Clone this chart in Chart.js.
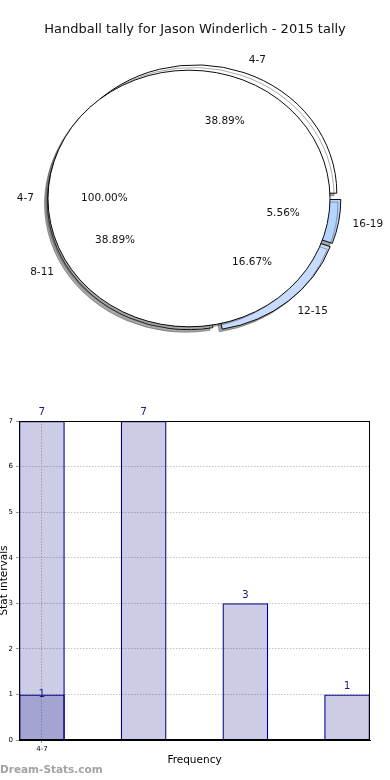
<!DOCTYPE html>
<html>
<head>
<meta charset="utf-8">
<script src="https://cdn.jsdelivr.net/npm/chart.js@4.4.1/dist/chart.umd.min.js"></script>
<style>
  html, body { margin: 0; padding: 0; background: #fff; }
  #wrap { position: relative; width: 390px; height: 780px; overflow: hidden; }
  canvas { position: absolute; left: 0; }
  #pieOuter, #pieInner { top: 0; }
  #bars { top: 390px; }
  #mark { position: absolute; left: 0; top: 763px; font: bold 10.5px 'DejaVu Sans', sans-serif; color: #a3a3a3; }
</style>
</head>
<body>
<div id="wrap">
  <canvas id="pieOuter" width="390" height="390"></canvas>
  <canvas id="pieInner" width="390" height="390"></canvas>
  <canvas id="bars" width="390" height="390"></canvas>
  <div id="mark">Dream-Stats.com</div>
</div>
<script>
// ── data ──────────────────────────────────────────────────────────────
const titleText = 'Handball tally for Jason Winderlich - 2015 tally';
const categories = ['4-7', '8-11', '12-15', '16-19'];
const tallies = [7, 7, 3, 1];
const sliceColors = ['#ffffff', '#ffffff', '#c6dbfd', '#b5d3ff'];
const wholeLabels = ['4-7'];      // the full 100% disc drawn over the slices
const wholeValues = [1];
const highlightValues = [1];      // darker overlay on the first bar
const xTickLabels = ['4-7'];

// ── pie geometry / look ───────────────────────────────────────────────
const PIE_R = 141;
const SQUASH = 0.91;          // the pie is drawn as an ellipse
const EXPLODE = 6.2;          // px each slice is pushed out
const SHADOW = 'rgba(77,77,77,0.5)';

Chart.defaults.font.family = "'DejaVu Sans', sans-serif";

function centerY(chart) {
    return (chart.chartArea.top + chart.chartArea.bottom) / 2;
}
function squashY(chart, y) {
    const cy = centerY(chart);
    return cy + (y - cy) * SQUASH;
}

// squash to an ellipse and add the gray drop shadow
const ellipsePlugin = {
    id: 'ellipse',
    beforeDatasetsDraw(chart) {
        const ctx = chart.ctx;
        const cy = centerY(chart);
        ctx.save();
        ctx.translate(0, cy);
        ctx.scale(1, SQUASH);
        ctx.translate(0, -cy);
        ctx.shadowColor = SHADOW;
        ctx.shadowOffsetX = -2.8;
        ctx.shadowOffsetY = 2.6;
        ctx.shadowBlur = 0;
    },
    afterDatasetsDraw(chart, args, opts) {
        const ctx = chart.ctx;
        if (opts && opts.outline) {
            // a whole disc: stroke only its rim (Chart.js would add a radius line)
            ctx.shadowColor = 'transparent';
            ctx.strokeStyle = '#000';
            ctx.lineWidth = 1;
            chart.getDatasetMeta(0).data.forEach(arc => {
                ctx.beginPath();
                ctx.arc(arc.x, arc.y, arc.outerRadius, 0, Math.PI * 2);
                ctx.stroke();
            });
        }
        ctx.restore();
    }
};

// push each slice out along its middle angle
const explodePlugin = {
    id: 'explode',
    afterDatasetUpdate(chart, args) {
        args.meta.data.forEach(arc => {
            const mid = (arc.startAngle + arc.endAngle) / 2;
            arc.x += Math.cos(mid) * EXPLODE;
            arc.y += Math.sin(mid) * EXPLODE;
        });
    }
};

// pie starts at 3 o'clock and runs counter-clockwise, so feed Chart.js reversed lists
const pieLabels = categories.slice().reverse();
const pieValues = tallies.slice().reverse();
const pieColors = sliceColors.slice().reverse();

const pieOpts = (rightPad, outline) => ({
    responsive: false,
    animation: false,
    events: [],
    rotation: 90,
    radius: PIE_R,
    layout: { padding: { left: 0, right: rightPad, top: 7, bottom: 0 } },
    plugins: { legend: { display: false }, tooltip: { enabled: false }, ellipse: { outline: outline } }
});

const outerChart = new Chart(document.getElementById('pieOuter'), {
    type: 'pie',
    data: {
        labels: pieLabels,
        datasets: [{
            data: pieValues,
            backgroundColor: pieColors,
            borderColor: '#000',
            borderWidth: 1
        }]
    },
    options: pieOpts(2.6, false),
    plugins: [explodePlugin, ellipsePlugin]
});

function drawPieText(chart, ctx, arc, label, pct) {
    const mid = (arc.startAngle + arc.endAngle) / 2;
    const r = arc.outerRadius;
    const c = Math.cos(mid), s = Math.sin(mid);
    ctx.textBaseline = 'middle';
    ctx.textAlign = c >= 0 ? 'left' : 'right';
    ctx.fillText(label, arc.x + c * r * 1.1, squashY(chart, arc.y + s * r * 1.1));
    ctx.textAlign = 'center';
    ctx.fillText(pct, arc.x + c * r * 0.6, squashY(chart, arc.y + s * r * 0.6));
}

const pieTextPlugin = {
    id: 'pieText',
    afterDraw(chart) {
        const ctx = chart.ctx;
        ctx.save();
        ctx.fillStyle = '#111';
        ctx.font = "13px 'DejaVu Sans'";
        ctx.textAlign = 'center';
        ctx.textBaseline = 'middle';
        ctx.fillText(titleText, 195, 30);

        ctx.font = "10.5px 'DejaVu Sans'";
        const total = pieValues.reduce((a, b) => a + b, 0);
        outerChart.getDatasetMeta(0).data.forEach((arc, i) => {
            drawPieText(outerChart, ctx, arc, pieLabels[i], (pieValues[i] / total * 100).toFixed(2) + '%');
        });
        const wholeTotal = wholeValues.reduce((a, b) => a + b, 0);
        chart.getDatasetMeta(0).data.forEach((arc, i) => {
            drawPieText(chart, ctx, arc, wholeLabels[i], (wholeValues[i] / wholeTotal * 100).toFixed(2) + '%');
        });
        ctx.restore();
    }
};

new Chart(document.getElementById('pieInner'), {
    type: 'pie',
    data: {
        labels: wholeLabels,
        datasets: [{
            data: wholeValues,
            backgroundColor: '#ffffff',
            borderWidth: 0
        }]
    },
    options: pieOpts(12, true),
    plugins: [ellipsePlugin, pieTextPlugin]
});

// ── bar chart ─────────────────────────────────────────────────────────
const barFill = 'rgba(0,0,128,0.2)';
const barEdge = '#000088';
const gridDots = { color: '#c2c2c2', width: 1 };

const barTextPlugin = {
    id: 'barText',
    afterDraw(chart) {
        const ctx = chart.ctx;
        const a = chart.chartArea;
        ctx.save();
        ctx.strokeStyle = '#000';
        ctx.lineWidth = 1;
        ctx.strokeRect(a.left + 0.5, a.top + 0.5, a.right - a.left - 1, a.bottom - a.top - 1);

        ctx.fillStyle = '#1a1a80';
        ctx.font = "10.5px 'DejaVu Sans'";
        ctx.textAlign = 'center';
        ctx.textBaseline = 'bottom';
        chart.getDatasetMeta(1).data.forEach((bar, i) => {
            ctx.fillText(String(tallies[i]), bar.x, bar.y - 3);
        });
        ctx.textBaseline = 'middle';
        chart.getDatasetMeta(0).data.forEach((bar, i) => {
            ctx.fillText(String(highlightValues[i]), bar.x, bar.y);
        });
        ctx.restore();
    }
};

const barSet = (values) => ({
    data: values.map((v, i) => ({ x: i, y: v })),
    backgroundColor: barFill,
    borderColor: barEdge,
    borderWidth: 1.3,
    borderSkipped: 'start',
    grouped: false,
    categoryPercentage: 1,
    barPercentage: 0.45
});

new Chart(document.getElementById('bars'), {
    type: 'bar',
    data: { datasets: [barSet(highlightValues), barSet(tallies)] },
    options: {
        responsive: false,
        animation: false,
        events: [],
        layout: { padding: { left: 0, right: 20, top: 31, bottom: 0 } },
        plugins: { legend: { display: false }, tooltip: { enabled: false } },
        scales: {
            x: {
                type: 'linear',
                min: -0.225,
                max: 3.225,
                offset: false,
                afterFit: s => { s.height = 40; },
                afterBuildTicks: s => { s.ticks = xTickLabels.map((t, i) => ({ value: i })); },
                ticks: {
                    autoSkip: false, maxRotation: 0, padding: 2,
                    color: '#000', font: { size: 7 },
                    callback: (v, i) => xTickLabels[i]
                },
                grid: { offset: false, color: gridDots.color, lineWidth: gridDots.width, tickLength: 3, tickColor: '#999', tickBorderDash: [] },
                border: { color: '#000', dash: [1.5, 1.5] },
                title: { display: true, text: 'Frequency', color: '#000', font: { size: 10.5 }, padding: { top: 0, bottom: 13.7 } }
            },
            y: {
                min: 0,
                max: 7,
                afterFit: s => { s.width = 19; },
                ticks: { stepSize: 1, padding: 3, color: '#000', font: { size: 7 } },
                grid: { color: gridDots.color, lineWidth: gridDots.width, tickLength: 3, tickColor: '#999', tickBorderDash: [] },
                border: { color: '#000', dash: [1.5, 1.5] },
                title: { display: true, text: 'Stat intervals', color: '#000', font: { size: 10.5 }, padding: { top: -2, bottom: 0 } }
            }
        }
    },
    plugins: [barTextPlugin]
});
</script>
</body>
</html>
